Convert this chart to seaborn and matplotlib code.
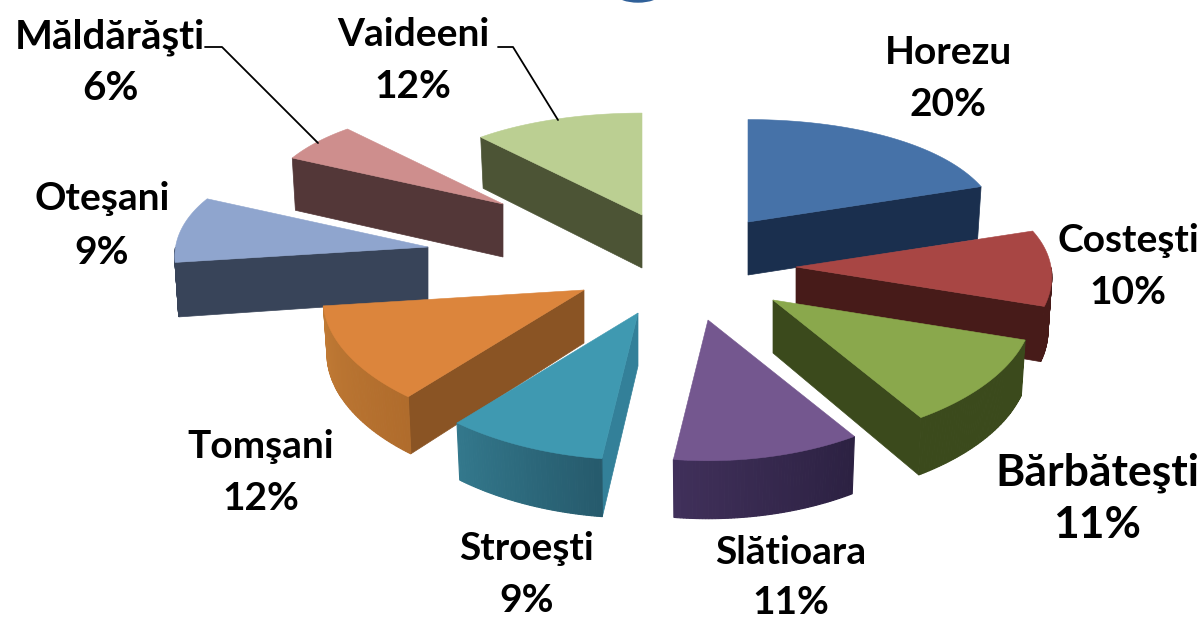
import numpy as np
import matplotlib
matplotlib.use("Agg")
import matplotlib.pyplot as plt
from matplotlib.colors import to_rgb
from matplotlib.patches import Ellipse
import seaborn as sns

# ---- data ----
categories = ["Horezu", "Costeşti", "Bărbăteşti", "Slătioara", "Stroeşti",
              "Tomşani", "Oteşani", "Măldărăşti", "Vaideeni"]
percents = [20, 10, 11, 11, 9, 12, 9, 6, 12]

# ---- styles ----
top_colors = ["#4672A8", "#A84644", "#8AA84C", "#74578F", "#3F99B1",
              "#DC853C", "#8FA5CE", "#CE8E8D", "#BBCF92"]
radial_colors = ["#1A2F4E", "#471B19", "#3B4A1C", "#2C2142", "#338099",
                 "#8A5424", "#384459", "#533738", "#4C5435"]
arc_start = ["#1A2F4E", "#471B19", "#3B4A1C", "#2C2142", "#265A6C",
             "#B06C2C", "#384459", "#533738", "#4C5435"]
arc_end = ["#1A2F4E", "#471B19", "#3B4A1C", "#40305A", "#33788C",
           "#C07A35", "#384459", "#533738", "#4C5435"]
# explosion layout: apex of each slice, in pixels, and radius factor
apex_x = [748, 796, 773, 708, 638, 584, 428, 503, 642]
apex_y = [222, 267, 300, 320, 313, 290, 247, 204, 215]
radius_scale = [0.985, 1.0, 1.015, 1.005, 1.05, 1.02, 0.99, 0.945, 0.98]
draw_order = [8, 7, 6, 0, 5, 1, 2, 4, 3]
label_x = [948, 1128, 1097, 791, 527, 261, 102, 110, 413]
label_y = [52, 241, 473, 552, 548, 446, 198, 37, 35]
pct_offset = [52, 52, 52, 50, 52, 52, 54, 52, 52]
label_size = [28, 28, 32, 28, 28, 28, 28, 29, 28]

sns.set_theme(style="white")
plt.rcParams["font.family"] = ["Lato", "DejaVu Sans"]

fig = plt.figure(figsize=(12.04, 6.19), dpi=100)
ax = fig.add_axes([0, 0, 1, 1])
ax.set_xlim(0, 1204)
ax.set_ylim(619, 0)
ax.axis("off")


def rim(ax0, ay0, theta, scale, bottom=False):
    """Perspective projection of a rim point at clock angle theta."""
    u, v = np.sin(theta), -np.cos(theta)
    sx = u * (255 + 20 * v) * scale
    sy = v * (122 + 18 * v) * scale
    if bottom:
        return ax0 + sx * 0.985, ay0 + sy + 54 + 4 * v
    return ax0 + sx, ay0 + sy


def mix(a, b, t):
    a, b = np.array(to_rgb(a)), np.array(to_rgb(b))
    return tuple(a + (b - a) * t)


shares = np.array(percents, dtype=float) / sum(percents) * 2 * np.pi
ends = np.cumsum(shares)
starts = ends - shares

for i in draw_order:
    a0, b0, s = apex_x[i], apex_y[i], radius_scale[i]
    t0, t1 = starts[i], ends[i]
    th = np.linspace(t0, t1, 60)
    base = (a0, b0 + 53)

    # radial side faces
    for t, visible in ((t0, -np.sin(t0) > 0), (t1, np.sin(t1) > 0)):
        if visible:
            p, q = rim(a0, b0, t, s), rim(a0, b0, t, s, bottom=True)
            ax.fill([a0, p[0], q[0], base[0]], [b0, p[1], q[1], base[1]],
                    color=radial_colors[i], lw=0.5, zorder=1 + draw_order.index(i) * 3)

    # outer rim face
    for k in range(len(th) - 1):
        if -np.cos((th[k] + th[k + 1]) / 2) <= 0:
            continue
        p1, p2 = rim(a0, b0, th[k], s), rim(a0, b0, th[k + 1], s)
        q1, q2 = rim(a0, b0, th[k], s, True), rim(a0, b0, th[k + 1], s, True)
        ax.fill([p1[0], p2[0], q2[0], q1[0]], [p1[1], p2[1], q2[1], q1[1]],
                color=mix(arc_start[i], arc_end[i], k / (len(th) - 2)),
                lw=0.8, zorder=2 + draw_order.index(i) * 3)

    # top face
    xs, ys = rim(a0, b0, th, s)
    ax.fill(np.r_[a0, xs], np.r_[b0, ys], color=top_colors[i], lw=0.4,
            zorder=3 + draw_order.index(i) * 3)

# labels
for name, pct, x, y, fs, off in zip(categories, percents, label_x, label_y,
                                    label_size, pct_offset):
    ax.text(x, y, name, ha="center", va="center", fontsize=fs, fontweight="bold",
            color="black", zorder=60)
    ax.text(x, y + off, f"{pct}%", ha="center", va="center", fontsize=fs,
            fontweight="bold", color="black", zorder=60)

# leader lines
ax.plot([205, 222, 318], [47, 47, 143], color="black", lw=1.3, zorder=50)
ax.plot([498, 513, 558], [47, 47, 120], color="black", lw=1.3, zorder=50)

# fragment of the cropped title at the top edge
ax.add_patch(Ellipse((638, -6), 42, 16, color="#2F6099", zorder=50))

fig.savefig("out.png", dpi=100, facecolor="white")
